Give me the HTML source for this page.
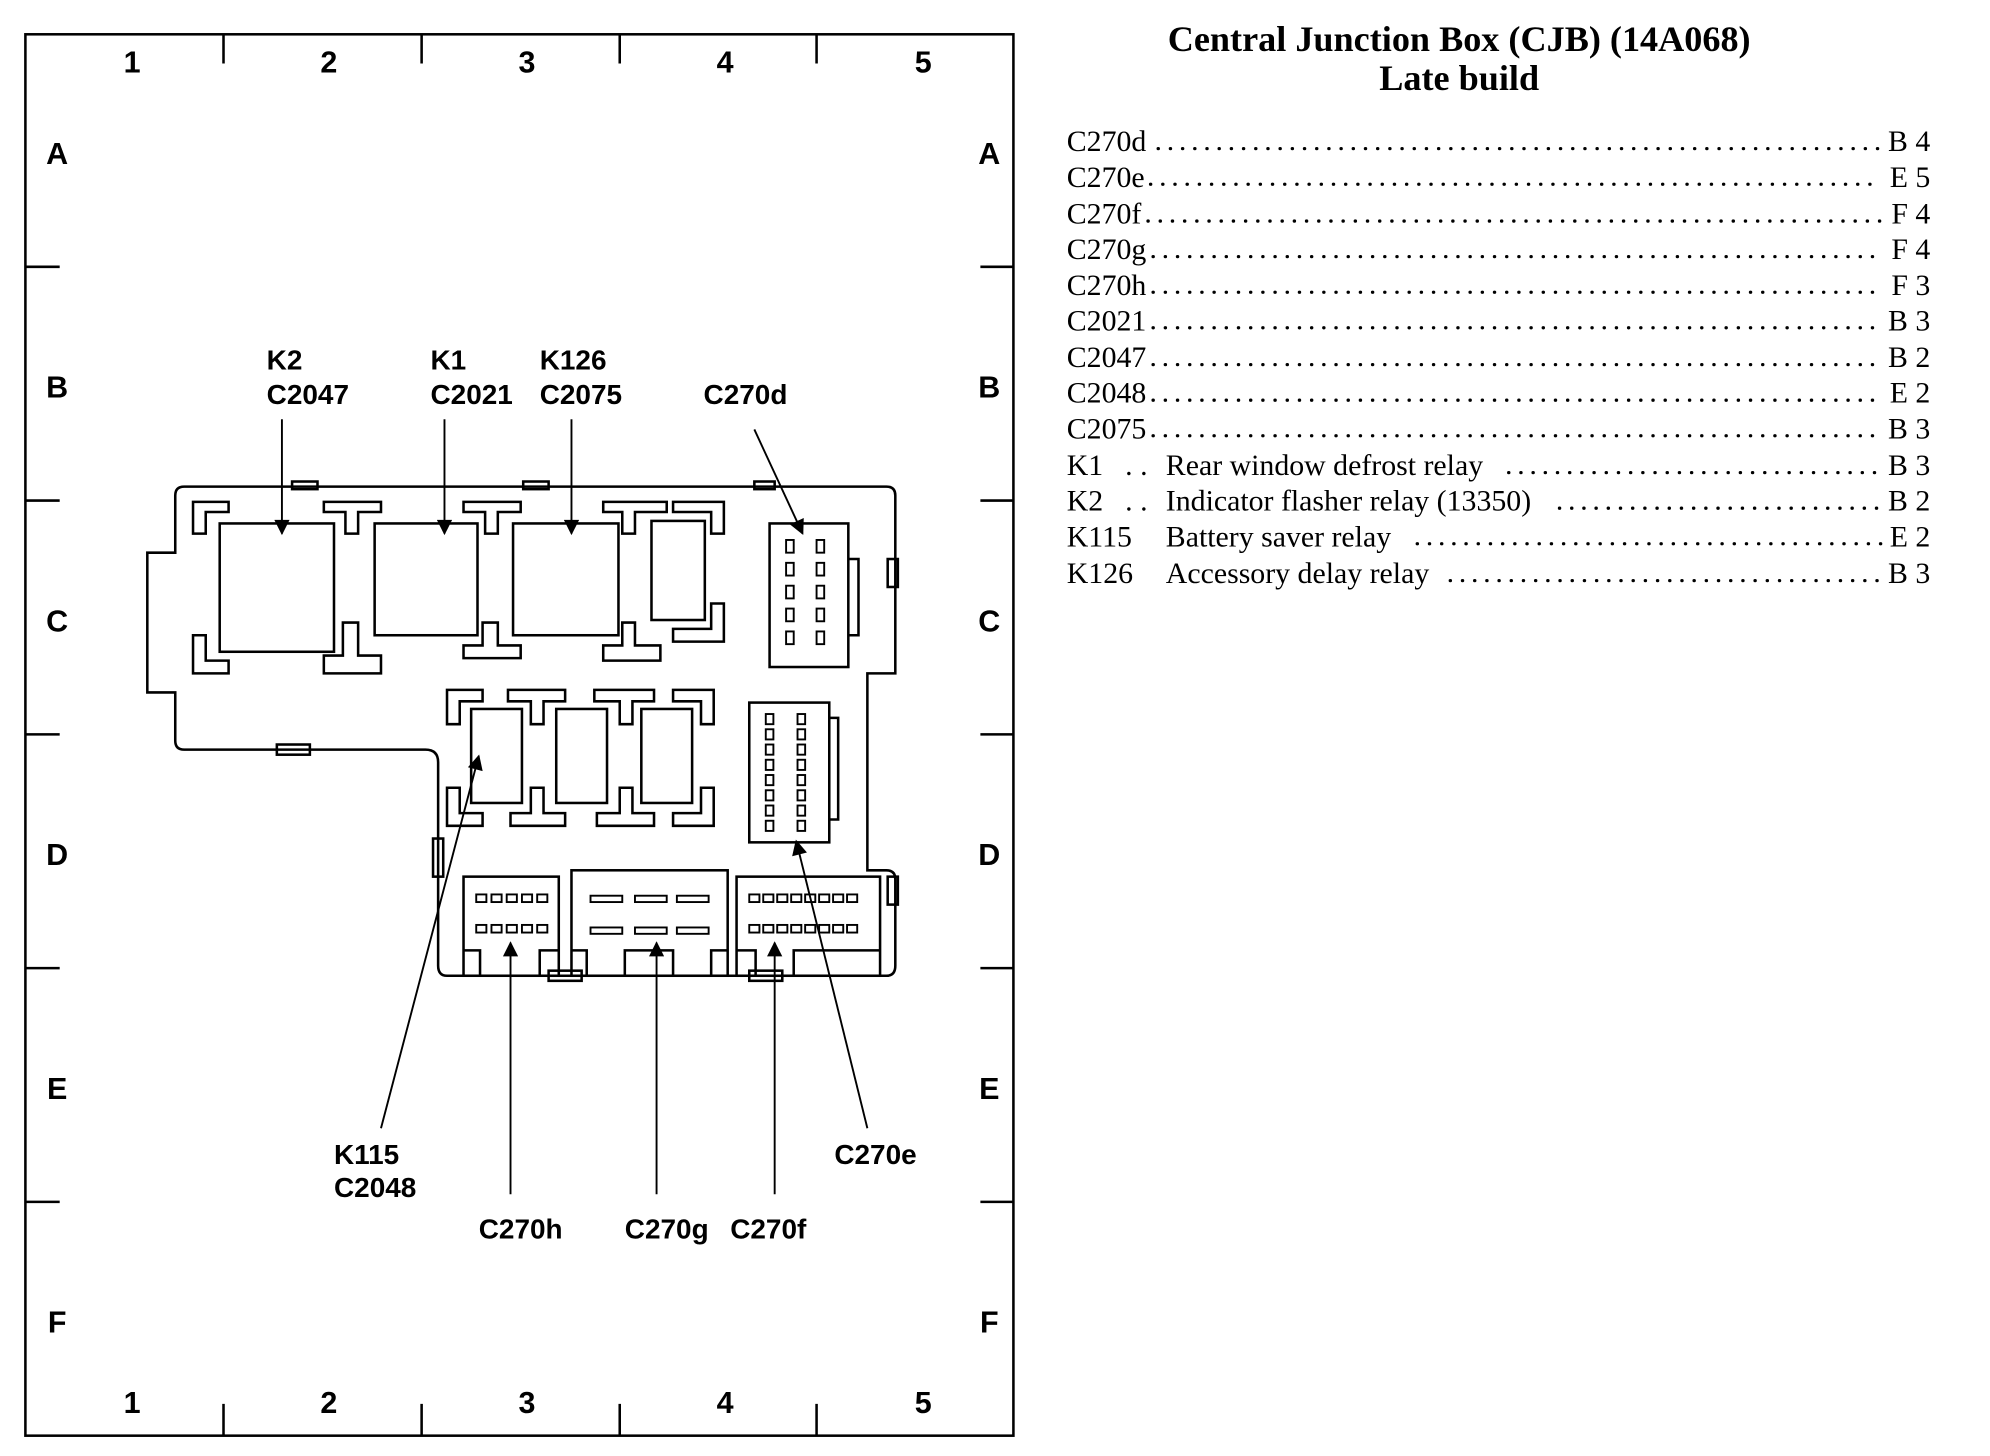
<!DOCTYPE html>
<html><head><style>html,body{margin:0;padding:0;background:#fff}svg{display:block}</style></head><body>
<svg width="1990" height="1456" viewBox="0 0 1567 1146" preserveAspectRatio="none" xmlns="http://www.w3.org/2000/svg">
<defs><marker id="b" viewBox="0 0 10 10" refX="9" refY="5" markerWidth="14" markerHeight="12" orient="auto" markerUnits="userSpaceOnUse"><path d="M0,0 L10,5 L0,10 z" fill="#000"/></marker></defs>
<g stroke="#000" stroke-width="2" fill="none">
<rect x="20" y="27" width="778" height="1103"/>
<path d="M176 27V50M332 27V50M488 27V50M643 27V50M176 1105V1130M332 1105V1130M488 1105V1130M643 1105V1130"/>
<path d="M20 210H47M20 394H47M20 578H47M20 762H47M20 946H47M772 210H798M772 394H798M772 578H798M772 762H798M772 946H798"/>
</g>
<g font-family="Liberation Sans, sans-serif" font-weight="bold" font-size="24" text-anchor="middle">
<text x="104" y="57">1</text><text x="259" y="57">2</text><text x="415" y="57">3</text><text x="571" y="57">4</text><text x="727" y="57">5</text>
<text x="104" y="1112">1</text><text x="259" y="1112">2</text><text x="415" y="1112">3</text><text x="571" y="1112">4</text><text x="727" y="1112">5</text>
<text x="45" y="129">A</text><text x="45" y="313">B</text><text x="45" y="497">C</text><text x="45" y="681">D</text><text x="45" y="865">E</text><text x="45" y="1049">F</text>
<text x="779" y="129">A</text><text x="779" y="313">B</text><text x="779" y="497">C</text><text x="779" y="681">D</text><text x="779" y="865">E</text><text x="779" y="1049">F</text>
</g>
<g stroke="#000" stroke-width="2" fill="none">
<path d="M145 383H698Q705 383 705 390V530H683V685H698Q705 685 705 692V760Q705 768 698 768H352Q345 768 345 760V600Q345 590 335 590H145Q138 590 138 583V545H116V435H138V390Q138 383 145 383Z"/>
<rect x="230" y="379" width="20" height="6"/><rect x="412" y="379" width="20" height="6"/><rect x="594" y="379" width="16" height="6"/><rect x="218" y="586" width="26" height="8"/><rect x="699" y="440" width="8" height="22"/><rect x="699" y="690" width="8" height="22"/><rect x="341" y="660" width="8" height="30"/><rect x="432" y="764" width="26" height="8"/><rect x="590" y="764" width="26" height="8"/>
<rect x="173" y="412" width="90" height="101"/><rect x="295" y="412" width="81" height="88"/><rect x="404" y="412" width="83" height="88"/><rect x="513" y="410" width="42" height="78"/>
<rect x="371" y="558" width="40" height="74"/><rect x="438" y="558" width="40" height="74"/><rect x="505" y="558" width="40" height="74"/>
<path d="M152 395H180V403H162V420H152ZM152 500H162V520H180V530H152ZM255 395H300V403H282V420H272V403H255ZM270 490H282V516H300V530H255V516H270ZM365 395H410V403H392V420H382V403H365ZM380 490H392V508H410V518H365V508H380ZM475 395H525V403H500V420H490V403H475ZM490 490H500V508H520V520H475V508H490ZM530 395H570V420H560V403H530ZM560 475H570V505H530V495H560Z"/>
<path d="M352 543H380V552H362V570H352ZM400 543H445V552H428V570H418V552H400ZM468 543H515V552H498V570H488V552H468ZM530 543H562V570H552V552H530ZM352 620H362V640H380V650H352ZM402 640H418V620H428V640H445V650H402ZM470 640H488V620H498V640H515V650H470ZM530 640H552V620H562V650H530Z"/>
<rect x="606" y="412" width="62" height="113"/><path d="M668 440H676V500H668"/>
<rect x="590" y="553" width="63" height="110"/><path d="M653 565H660V645H653"/>
<rect x="365" y="690" width="75" height="78"/><rect x="450" y="685" width="123" height="83"/><rect x="580" y="690" width="113" height="78"/>
</g>
<g fill="#fff" stroke="#000" stroke-width="1.5">
<rect x="619" y="425" width="6" height="10"/><rect x="643" y="425" width="6" height="10"/><rect x="619" y="443" width="6" height="10"/><rect x="643" y="443" width="6" height="10"/><rect x="619" y="461" width="6" height="10"/><rect x="643" y="461" width="6" height="10"/><rect x="619" y="479" width="6" height="10"/><rect x="643" y="479" width="6" height="10"/><rect x="619" y="497" width="6" height="10"/><rect x="643" y="497" width="6" height="10"/>
<rect x="603" y="562" width="6" height="8"/><rect x="628" y="562" width="6" height="8"/><rect x="603" y="574" width="6" height="8"/><rect x="628" y="574" width="6" height="8"/><rect x="603" y="586" width="6" height="8"/><rect x="628" y="586" width="6" height="8"/><rect x="603" y="598" width="6" height="8"/><rect x="628" y="598" width="6" height="8"/><rect x="603" y="610" width="6" height="8"/><rect x="628" y="610" width="6" height="8"/><rect x="603" y="622" width="6" height="8"/><rect x="628" y="622" width="6" height="8"/><rect x="603" y="634" width="6" height="8"/><rect x="628" y="634" width="6" height="8"/><rect x="603" y="646" width="6" height="8"/><rect x="628" y="646" width="6" height="8"/>
<rect x="375" y="704" width="8" height="6"/><rect x="387" y="704" width="8" height="6"/><rect x="399" y="704" width="8" height="6"/><rect x="411" y="704" width="8" height="6"/><rect x="423" y="704" width="8" height="6"/>
<rect x="375" y="728" width="8" height="6"/><rect x="387" y="728" width="8" height="6"/><rect x="399" y="728" width="8" height="6"/><rect x="411" y="728" width="8" height="6"/><rect x="423" y="728" width="8" height="6"/>
<rect x="465" y="705" width="25" height="5"/><rect x="500" y="705" width="25" height="5"/><rect x="533" y="705" width="25" height="5"/><rect x="465" y="730" width="25" height="5"/><rect x="500" y="730" width="25" height="5"/><rect x="533" y="730" width="25" height="5"/>
<rect x="590" y="704" width="8" height="6"/><rect x="601" y="704" width="8" height="6"/><rect x="612" y="704" width="8" height="6"/><rect x="623" y="704" width="8" height="6"/><rect x="634" y="704" width="8" height="6"/><rect x="645" y="704" width="8" height="6"/><rect x="656" y="704" width="8" height="6"/><rect x="667" y="704" width="8" height="6"/>
<rect x="590" y="728" width="8" height="6"/><rect x="601" y="728" width="8" height="6"/><rect x="612" y="728" width="8" height="6"/><rect x="623" y="728" width="8" height="6"/><rect x="634" y="728" width="8" height="6"/><rect x="645" y="728" width="8" height="6"/><rect x="656" y="728" width="8" height="6"/><rect x="667" y="728" width="8" height="6"/>
</g>
<g stroke="#000" stroke-width="2" fill="none">
<path d="M365 748H378V768M425 768V748H440M450 748H462V768M492 768V748H530V768M560 768V748H573M580 748H595V768M625 768V748H693"/>
</g>
<g stroke="#000" stroke-width="1.5">
<line x1="222" y1="330" x2="222" y2="420" marker-end="url(#b)"/>
<line x1="350" y1="330" x2="350" y2="420" marker-end="url(#b)"/>
<line x1="450" y1="330" x2="450" y2="420" marker-end="url(#b)"/>
<line x1="594" y1="338" x2="632" y2="420" marker-end="url(#b)"/>
<line x1="300" y1="888" x2="377" y2="595" marker-end="url(#b)"/>
<line x1="402" y1="940" x2="402" y2="742" marker-end="url(#b)"/>
<line x1="517" y1="940" x2="517" y2="742" marker-end="url(#b)"/>
<line x1="610" y1="940" x2="610" y2="742" marker-end="url(#b)"/>
<line x1="683" y1="888" x2="627" y2="662" marker-end="url(#b)"/>
</g>
<g font-family="Liberation Sans, sans-serif" font-weight="bold" font-size="22">
<text x="210" y="291">K2</text><text x="210" y="318">C2047</text>
<text x="339" y="291">K1</text><text x="339" y="318">C2021</text>
<text x="425" y="291">K126</text><text x="425" y="318">C2075</text>
<text x="554" y="318">C270d</text>
<text x="263" y="916">K115</text><text x="263" y="942">C2048</text>
<text x="657" y="916">C270e</text>
<text x="377" y="975">C270h</text><text x="492" y="975">C270g</text><text x="575" y="975">C270f</text>
</g>
<g font-family="Liberation Serif, serif" font-weight="bold" font-size="28.5" text-anchor="middle">
<text x="1149" y="40">Central Junction Box (CJB) (14A068)</text><text x="1149" y="71">Late build</text>
</g>
<g font-family="Liberation Serif, serif" font-size="23.5">
<text x="840" y="119">C270d</text><text x="840" y="147">C270e</text><text x="840" y="176">C270f</text><text x="840" y="204">C270g</text><text x="840" y="232">C270h</text><text x="840" y="260">C2021</text><text x="840" y="289">C2047</text><text x="840" y="317">C2048</text><text x="840" y="345">C2075</text>
<text x="840" y="374">K1<tspan x="886">. .</tspan><tspan x="918">Rear window defrost relay</tspan></text>
<text x="840" y="402">K2<tspan x="886">. .</tspan><tspan x="918">Indicator flasher relay (13350)</tspan></text>
<text x="840" y="430">K115<tspan x="918">Battery saver relay</tspan></text>
<text x="840" y="459">K126<tspan x="918">Accessory delay relay</tspan></text>
<g text-anchor="end">
<text x="1520" y="119">B 4</text><text x="1520" y="147">E 5</text><text x="1520" y="176">F 4</text><text x="1520" y="204">F 4</text><text x="1520" y="232">F 3</text><text x="1520" y="260">B 3</text><text x="1520" y="289">B 2</text><text x="1520" y="317">E 2</text><text x="1520" y="345">B 3</text><text x="1520" y="374">B 3</text><text x="1520" y="402">B 2</text><text x="1520" y="430">E 2</text><text x="1520" y="459">B 3</text>
</g>
</g>
<g stroke="#000" stroke-width="2.6" stroke-dasharray="0.1 9.5" stroke-linecap="round">
<path d="M912 117H1482M906 145H1482M904 174H1482M908 202H1482M908 230H1482M908 258H1482M908 287H1482M908 315H1482M908 343H1482M1188 372H1482M1228 400H1482M1116 428H1482M1142 457H1482"/>
</g>
</svg>
</body></html>
